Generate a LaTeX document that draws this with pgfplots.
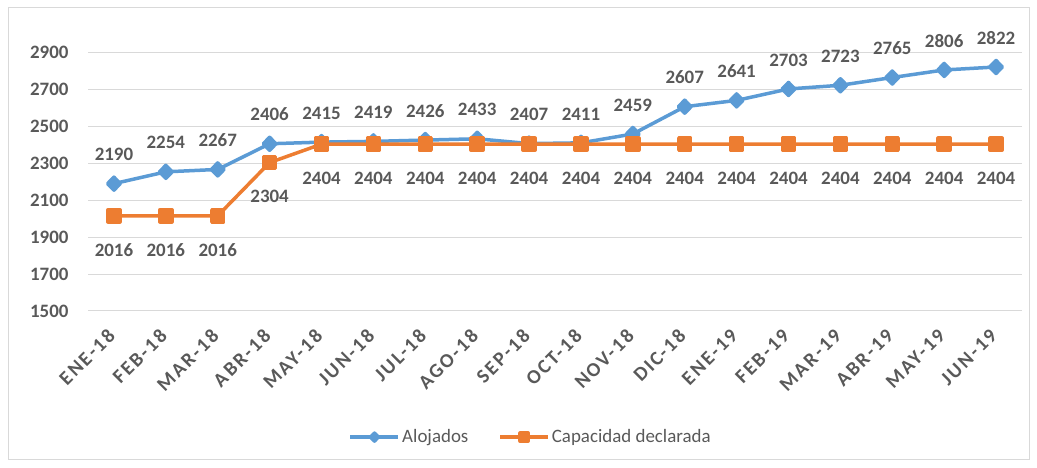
\documentclass[border=0pt]{standalone}
\usepackage{fontspec}
\setmainfont{Carlito}
\usepackage{pgfplots}
\pgfplotsset{compat=1.18}
\definecolor{cblue}{HTML}{5B9BD5}
\definecolor{corange}{HTML}{ED7D31}
\definecolor{tgray}{HTML}{595959}
\definecolor{ggray}{HTML}{D9D9D9}
\begin{document}
\begin{tikzpicture}
\path[use as bounding box] (0,0) rectangle (1037bp,468bp);
\draw[ggray, line width=1bp] (8bp,8bp) rectangle (1029bp,460bp);
\begin{axis}[
 at={(88bp,157bp)}, anchor=south west,
 scale only axis, width=934bp, height=258.4bp,
 xmin=-0.5, xmax=17.5, ymin=1500, ymax=2900,
 ytick={1500,1700,...,2900},
 xtick={0,...,17},
 xticklabels={ENE-18,FEB-18,MAR-18,ABR-18,MAY-18,JUN-18,JUL-18,AGO-18,SEP-18,OCT-18,NOV-18,DIC-18,ENE-19,FEB-19,MAR-19,ABR-19,MAY-19,JUN-19},
 axis line style={draw=none},
 ymajorgrids, grid style={ggray, line width=1bp},
 major tick length=0pt,
 tick label style={font=\fontsize{19}{22}\selectfont\bfseries, text=tgray},
 /pgf/number format/assume math mode=true,
 /pgf/number format/1000 sep={},
 yticklabel style={xshift=-16bp},
 xticklabel style={font=\fontsize{20}{22}\selectfont\bfseries\addfontfeatures{LetterSpace=11}, yshift=-19bp, rotate=45, anchor=east},
 clip=false,
 every node near coord/.append style={font=\fontsize{19}{22}\selectfont\bfseries, text=tgray, inner sep=0pt},
 legend style={at={(0.474,-0.488)}, anchor=center, draw=none, fill=none,
   legend columns=2, font=\fontsize{19}{22}\selectfont, text=tgray,
   /tikz/every even column/.append style={column sep=28bp}},
 legend image code/.code={\draw[#1, mark repeat=2, mark phase=2] plot coordinates {(0bp,0bp) (24bp,0bp) (48bp,0bp)};},
 legend image post style={mark size=4bp},
]
\addplot[cblue, line width=3.5bp, line join=round, mark=diamond*, mark size=6.5bp, mark options={xscale=1.3},
  nodes near coords, every node near coord/.append style={anchor=south, yshift=21bp}]
 coordinates {(0,2190) (1,2254) (2,2267) (3,2406) (4,2415) (5,2419) (6,2426) (7,2433) (8,2407) (9,2411) (10,2459) (11,2607) (12,2641) (13,2703) (14,2723) (15,2765) (16,2806) (17,2822)};
\addlegendentry{Alojados}
\addplot[corange, line width=3.5bp, line join=round, mark=square*, mark size=6bp,
  nodes near coords, every node near coord/.append style={anchor=north, yshift=-26bp}]
 coordinates {(0,2016) (1,2016) (2,2016) (3,2304) (4,2404) (5,2404) (6,2404) (7,2404) (8,2404) (9,2404) (10,2404) (11,2404) (12,2404) (13,2404) (14,2404) (15,2404) (16,2404) (17,2404)};
\addlegendentry{Capacidad declarada}
\end{axis}
\end{tikzpicture}
\end{document}
